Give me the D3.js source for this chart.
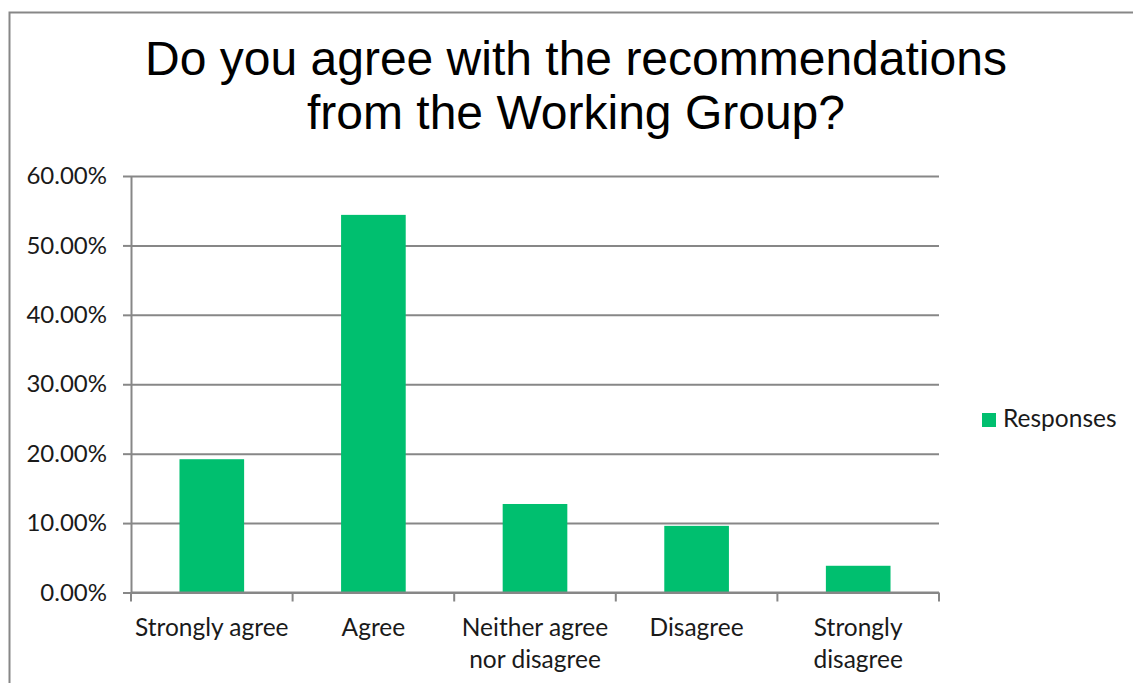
<!DOCTYPE html>
<html>
<head>
	<meta charset="utf-8">
	<title>Working Group recommendations</title>
	<script src="https://cdn.jsdelivr.net/npm/d3@7"></script>
	<style>
		body {
			margin: 0;
			background-color: #fff;
		}
		.title {
			font-family: 'Liberation Sans', Arial, sans-serif;
			font-size: 48px;
			fill: #000;
		}
		.axis text, .legend text, .cat-label {
			font-family: Lato, 'Noto Sans', sans-serif;
			font-size: 24.5px;
			fill: #1a1a1a;
		}
		.axis text {
			font-size: 24px;
		}
		.axis path, .axis line, .grid line, .boundary {
			stroke: #878787;
			stroke-width: 2px;
		}
		.grid path {
			display: none;
		}
		.bar {
			fill: #00BF6F;
		}
	</style>
</head>
<body>
	<div id="chart"></div>
</body>
<script>
	// Data.
	const categories = ['Strongly agree', 'Agree', 'Neither agree nor disagree', 'Disagree', 'Strongly disagree'];
	const responses = [0.192, 0.544, 0.1275, 0.096, 0.0385];
	const tickLabels = [['Strongly agree'], ['Agree'], ['Neither agree', 'nor disagree'], ['Disagree'], ['Strongly', 'disagree']];
	const yTicks = [0, 0.1, 0.2, 0.3, 0.4, 0.5, 0.6];
	const titleLines = ['Do you agree with the recommendations', 'from the Working Group?'];
	const seriesName = 'Responses';

	const W = 1133, H = 683;
	const margin = {top: 176, right: 194, bottom: 90.5, left: 131};
	const width = W - margin.left - margin.right;
	const height = H - margin.top - margin.bottom;

	const svg = d3.select('#chart')
		.append('svg')
			.attr('width', W)
			.attr('height', H);

	// Chart area border (only top and left edges are in view).
	svg.append('rect')
		.attr('x', 9.5)
		.attr('y', 12.5)
		.attr('width', W + 50)
		.attr('height', H + 50)
		.attr('fill', 'none')
		.attr('stroke', '#878787')
		.attr('stroke-width', 2);

	// Title.
	svg.append('text')
		.attr('class', 'title')
		.attr('text-anchor', 'middle')
		.selectAll('tspan')
		.data(titleLines)
		.join('tspan')
			.attr('x', 576)
			.attr('y', (d, i) => 75 + i * 54)
			.text(d => d);

	const g = svg.append('g')
		.attr('transform', 'translate(' + margin.left + ',' + margin.top + ')');

	const x = d3.scaleBand()
		.domain(categories)
		.range([0, width])
		.paddingInner(0.6)
		.paddingOuter(0.3);

	const y = d3.scaleLinear()
		.domain([0, 0.6])
		.range([height, 0]);

	// Horizontal gridlines.
	g.append('g')
		.attr('class', 'grid')
		.call(d3.axisLeft(y).tickValues(yTicks).tickSize(-width).tickFormat(''));

	// Y axis with outside ticks.
	g.append('g')
		.attr('class', 'axis y-axis')
		.call(d3.axisLeft(y).tickValues(yTicks).tickSize(8).tickSizeOuter(0).tickPadding(16).tickFormat(d3.format('.2%')));

	// Bars.
	g.append('g')
		.selectAll('rect')
		.data(responses)
		.join('rect')
			.attr('class', 'bar')
			.attr('x', (d, i) => x(categories[i]))
			.attr('y', d => y(d))
			.attr('width', x.bandwidth())
			.attr('height', d => height - y(d));

	// X axis line.
	g.append('line')
		.attr('class', 'boundary')
		.attr('x1', 0)
		.attr('x2', width)
		.attr('y1', height)
		.attr('y2', height);

	// Tick marks sit between categories.
	const gap = (x.step() - x.bandwidth()) / 2;
	const boundaries = categories.map(c => x(c) - gap).concat([x(categories[categories.length - 1]) + x.bandwidth() + gap]);
	g.append('g')
		.selectAll('line')
		.data(boundaries)
		.join('line')
			.attr('class', 'boundary')
			.attr('x1', d => d)
			.attr('x2', d => d)
			.attr('y1', height)
			.attr('y2', height + 9);

	// Category labels, possibly on two lines.
	g.append('g')
		.selectAll('text')
		.data(categories)
		.join('text')
			.attr('class', 'cat-label')
			.attr('text-anchor', 'middle')
			.each(function (c, i) {
				d3.select(this).selectAll('tspan')
					.data(tickLabels[i])
					.join('tspan')
						.attr('x', x(c) + x.bandwidth() / 2)
						.attr('y', (d, j) => height + 43 + j * 32)
						.text(d => d);
			});

	// Legend.
	const legend = svg.append('g')
		.attr('class', 'legend')
		.attr('transform', 'translate(982,413)');
	legend.append('rect')
		.attr('class', 'bar')
		.attr('width', 14)
		.attr('height', 14);
	legend.append('text')
		.attr('x', 21)
		.attr('y', 14)
		.text(seriesName);
</script>
</html>
